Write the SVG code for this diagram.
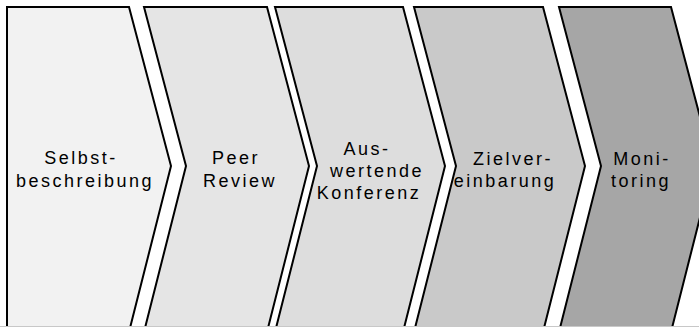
<svg xmlns="http://www.w3.org/2000/svg" width="699" height="327" viewBox="0 0 699 327">
  <style>
    .step { stroke: #000; stroke-width: 2; stroke-linejoin: miter; }
    .lbl { font-family: "Liberation Sans", Arial, sans-serif; font-size: 18px; letter-spacing: 2.5px; fill: #000; text-anchor: middle; }
  </style>
  <rect x="0" y="0" width="699" height="327" fill="#fff"/>
  <g id="connectors"></g>
  <g id="step1">
    <polygon class="step" fill="#f2f2f2" points="7,7 129,7 171,166 130,328 7,328"/>
    <text class="lbl" x="81" y="164">Selbst-</text>
    <text class="lbl" x="85" y="187">beschreibung</text>
  </g>
  <g id="step2">
    <polygon class="step" fill="#e5e5e5" points="144,7 267,7 309,166 268,328 145,328 186,166"/>
    <text class="lbl" x="236" y="164">Peer</text>
    <text class="lbl" x="240" y="187">Review</text>
  </g>
  <g id="step3">
    <polygon class="step" fill="#dddddd" points="275,7 403,7 445,166 404,328 276,328 317,166"/>
    <text class="lbl" x="367" y="155">Aus-</text>
    <text class="lbl" x="377" y="177">wertende</text>
    <text class="lbl" x="369" y="199">Konferenz</text>
  </g>
  <g id="step4">
    <polygon class="step" fill="#c9c9c9" points="414,7 543,7 585,166 544,328 415,328 456,166"/>
    <text class="lbl" x="513" y="165">Zielver-</text>
    <text class="lbl" x="505" y="187">einbarung</text>
  </g>
  <g id="step5">
    <polygon class="step" fill="#a6a6a6" points="559,7 671,7 713,166 672,328 560,328 601,166"/>
    <text class="lbl" x="642" y="165">Moni-</text>
    <text class="lbl" x="641" y="187">toring</text>
  </g>
  <line x1="0" y1="326.5" x2="699" y2="326.5" stroke="#c8c8c8" stroke-width="1"/>
</svg>
